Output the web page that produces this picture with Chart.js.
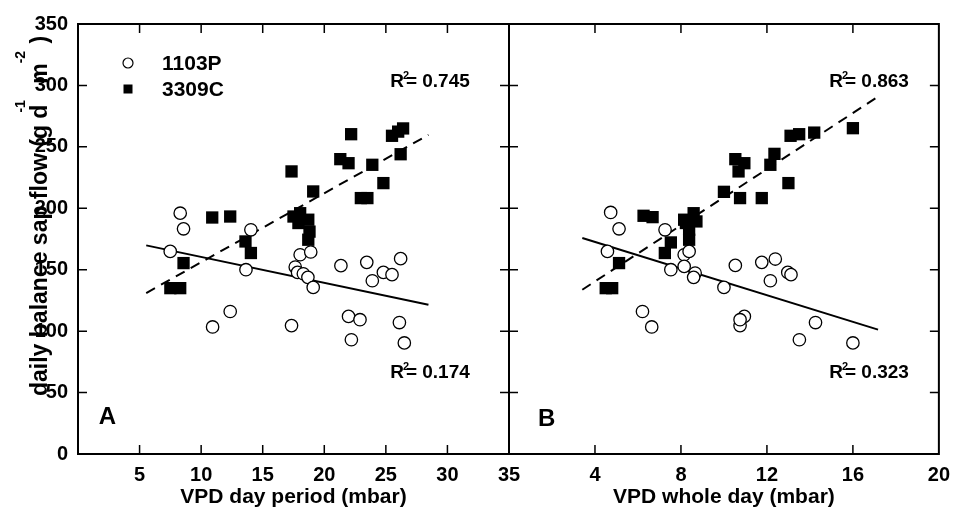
<!DOCTYPE html>
<html>
<head>
<meta charset="utf-8">
<script src="https://cdn.jsdelivr.net/npm/chart.js@4.4.0/dist/chart.umd.min.js"></script>
<style>
  html, body { margin: 0; padding: 0; background: #fff; }
  #wrap { position: relative; width: 954px; height: 521px; overflow: hidden; }
  canvas { position: absolute; top: 0; }
  #chartA { left: 0; }
  #chartB { left: 490px; }
</style>
</head>
<body>
<div id="wrap">
  <canvas id="chartA" width="530" height="521"></canvas>
  <canvas id="chartB" width="469" height="521"></canvas>
</div>
<script>
// ---- values ----
// panel A: VPD day period
const dayVpd1103  = [8.3, 8.57, 7.49, 14.04, 13.64, 12.36, 10.93, 17.34, 18.04, 18.9, 17.64, 17.83, 18.3, 18.67, 19.1, 21.35, 23.45, 23.9, 24.8, 25.5, 26.2, 21.97, 22.9, 22.2, 26.1, 26.5];
const dayFlow1103 = [196, 183.3, 164.9, 182.5, 150, 116, 103.4, 104.5, 162.2, 164.4, 152.2, 147.8, 146.7, 143.8, 135.6, 153.3, 156, 141, 147.8, 146, 159, 112, 109.3, 93, 107, 90.4];
const dayVpd3309  = [22.18, 25.5, 26.0, 26.4, 26.2, 21.3, 21.97, 23.9, 24.8, 22.97, 23.5, 17.34, 19.1, 10.9, 12.36, 17.5, 18.04, 18.7, 17.9, 18.8, 18.7, 13.6, 14.04, 8.57, 7.5, 8.3];
const dayFlow3309 = [260.3, 259, 262.4, 265, 244, 240, 236.7, 235.4, 220.5, 208.3, 208.3, 230, 213.7, 192.5, 193.3, 193.3, 196, 190.7, 188, 181, 174.4, 173, 163.6, 155.4, 135, 135];

// panel B: VPD whole day
const wholeVpd1103  = [4.73, 5.12, 4.58, 7.26, 7.53, 6.21, 6.64, 10.75, 8.15, 8.38, 8.15, 8.66, 8.59, 10.0, 10.53, 11.76, 12.16, 12.97, 13.12, 12.39, 10.95, 10.75, 13.51, 14.26, 16.0];
const wholeFlow1103 = [196.6, 183.3, 164.9, 182.5, 150, 116, 103.4, 104.5, 162.2, 164.9, 152.7, 147.3, 143.8, 135.6, 153.5, 156, 141, 147.8, 146, 158.7, 112, 109.3, 93, 107, 90.4];
const wholeVpd3309  = [16.0, 14.2, 13.5, 13.1, 12.35, 12.16, 13.0, 10.53, 10.95, 10.68, 10.0, 10.75, 11.76, 6.26, 6.68, 8.59, 8.15, 8.72, 8.23, 8.38, 8.38, 7.53, 7.25, 5.12, 4.5, 4.8];
const wholeFlow3309 = [265.2, 261.6, 260.3, 259, 244.3, 235.4, 220.5, 240, 236.7, 230, 213.4, 208.3, 208.3, 193.9, 192.8, 196, 190.7, 189.3, 188, 182.5, 174.4, 172.2, 163.6, 155.4, 135, 135];

// regression line end points
const fitDayX     = [5.54, 28.46];
const fitDay1103  = [169.8, 121.5];
const fitDay3309  = [131, 259.8];
const fitWholeX    = [3.41, 17.17];
const fitWhole1103 = [175.8, 101.2];
const fitWhole3309 = [133.7, 290.9];

const seriesNames = ['1103P', '3309C'];
const r2Day   = ['0.745', '0.174'];
const r2Whole = ['0.863', '0.323'];
const yTicks = [0, 350, 50];

const FAM = '"Liberation Sans", Arial, Helvetica, sans-serif';

Chart.defaults.font.family = FAM;
Chart.defaults.color = '#000';

function pts(xs, ys) {
  return xs.map((x, i) => ({ x: x, y: ys[i] }));
}

// frame + inward tick marks on all four sides
const frameTicks = {
  id: 'frameTicks',
  afterDatasetsDraw(chart) {
    const { ctx, chartArea: a, scales: { x, y } } = chart;
    ctx.save();
    ctx.strokeStyle = '#000';
    ctx.lineWidth = 1.5;
    ctx.beginPath();
    x.ticks.forEach(t => {
      if (t.value <= x.min || t.value >= x.max) return;
      const px = x.getPixelForValue(t.value);
      ctx.moveTo(px, a.bottom); ctx.lineTo(px, a.bottom - 9);
      ctx.moveTo(px, a.top); ctx.lineTo(px, a.top + 9);
    });
    y.ticks.forEach(t => {
      if (t.value <= y.min || t.value >= y.max) return;
      const py = y.getPixelForValue(t.value);
      ctx.moveTo(a.left, py); ctx.lineTo(a.left + 9, py);
      ctx.moveTo(a.right, py); ctx.lineTo(a.right - 9, py);
    });
    ctx.stroke();
    ctx.lineWidth = 2;
    ctx.strokeRect(a.left, a.top, a.right - a.left, a.bottom - a.top);
    ctx.restore();
  }
};

function drawR2(ctx, value, x0, yb) {
  ctx.textAlign = 'left';
  ctx.textBaseline = 'alphabetic';
  ctx.font = 'bold 19px ' + FAM;
  ctx.fillText('R', x0, yb);
  const rw = ctx.measureText('R').width;
  ctx.font = 'bold 11px ' + FAM;
  ctx.fillText('2', x0 + rw - 1, yb - 8);
  ctx.font = 'bold 19px ' + FAM;
  ctx.fillText('= ' + value, x0 + rw + 2, yb);
}

// R² notes, panel letter, legend, rotated y title
const notes = {
  id: 'notes',
  afterDraw(chart, args, opts) {
    const { ctx, chartArea: a, scales: { x, y } } = chart;
    ctx.save();
    ctx.fillStyle = '#000';
    opts.r2.forEach((v, i) => {
      drawR2(ctx, v, x.getPixelForValue(opts.r2x), y.getPixelForValue(opts.r2y[i]));
    });
    ctx.font = 'bold 24px ' + FAM;
    ctx.textAlign = 'center';
    ctx.textBaseline = 'middle';
    ctx.fillText(opts.letter, x.getPixelForValue(opts.letterPos[0]), y.getPixelForValue(opts.letterPos[1]));

    if (opts.legend) {
      const lx = a.left + 50, ly = a.top + 39;
      ctx.lineWidth = 1.2;
      ctx.strokeStyle = '#000';
      ctx.fillStyle = '#fff';
      ctx.beginPath();
      ctx.arc(lx, ly, 5, 0, Math.PI * 2);
      ctx.fill();
      ctx.stroke();
      ctx.fillStyle = '#000';
      ctx.fillRect(lx - 4.5, ly + 26 - 4.5, 9, 9);
      ctx.font = 'bold 21px ' + FAM;
      ctx.textAlign = 'left';
      ctx.textBaseline = 'middle';
      ctx.fillText(seriesNames[0], lx + 34, ly + 1);
      ctx.fillText(seriesNames[1], lx + 34, ly + 27);
    }

    if (opts.yTitle) {
      ctx.translate(47, 396);
      ctx.rotate(-Math.PI / 2);
      ctx.textAlign = 'left';
      ctx.textBaseline = 'alphabetic';
      const big = 'bold 23px ' + FAM, small = 'bold 14px ' + FAM;
      const parts = [
        ['daily balance sap flow (g d', big, 0, -8],
        ['-1', small, -22, 10],
        [' m', big, 0, 0],
        ['-2', small, -22, 1],
        [' )', big, 0, 0]
      ];
      let cx = 0;
      parts.forEach(p => {
        ctx.font = p[1];
        ctx.fillText(p[0], cx, p[2]);
        cx += ctx.measureText(p[0]).width + p[3];
      });
    }
    ctx.restore();
  }
};

function makePanel(id, o) {
  return new Chart(document.getElementById(id), {
    type: 'scatter',
    data: {
      datasets: [
        {
          label: seriesNames[0],
          data: pts(o.vx1, o.vy1),
          pointStyle: 'circle',
          pointRadius: 6.2,
          pointBackgroundColor: '#fff',
          pointBorderColor: '#000',
          pointBorderWidth: 1.3
        },
        {
          label: seriesNames[1],
          data: pts(o.vx2, o.vy2),
          pointStyle: 'rect',
          pointRadius: 8.7,
          pointBackgroundColor: '#000',
          pointBorderColor: '#000',
          pointBorderWidth: 0
        },
        {
          type: 'line',
          data: pts(o.fx, o.fy1),
          borderColor: '#000',
          borderWidth: 2,
          pointRadius: 0,
          fill: false
        },
        {
          type: 'line',
          data: pts(o.fx, o.fy2),
          borderColor: '#000',
          borderWidth: 2,
          borderDash: [10, 7],
          pointRadius: 0,
          fill: false
        }
      ]
    },
    options: {
      responsive: false,
      animation: false,
      events: [],
      layout: { padding: o.padding },
      plugins: {
        legend: { display: false },
        tooltip: { enabled: false },
        notes: o.notes
      },
      scales: {
        x: {
          type: 'linear',
          min: 0,
          max: o.xMax,
          afterFit: s => { s.height = 67; },
          grid: { display: false, drawTicks: false },
          border: { display: false },
          ticks: {
            stepSize: o.xStep,
            padding: 9,
            maxRotation: 0,
            autoSkip: false,
            font: { size: 20, weight: 'bold' },
            callback: v => (v === 0 ? '' : v)
          },
          title: {
            display: true,
            text: o.xTitle,
            font: { size: 21, weight: 'bold' },
            padding: { top: 0, bottom: 11 }
          }
        },
        y: {
          type: 'linear',
          min: yTicks[0],
          max: yTicks[1],
          afterFit: s => { s.width = o.yWidth; },
          grid: { display: false, drawTicks: false },
          border: { display: false },
          ticks: {
            display: o.showY,
            stepSize: yTicks[2],
            padding: 10,
            font: { size: 20, weight: 'bold' }
          }
        }
      }
    },
    plugins: [frameTicks, notes]
  });
}

makePanel('chartA', {
  vx1: dayVpd1103, vy1: dayFlow1103, vx2: dayVpd3309, vy2: dayFlow3309,
  fx: fitDayX, fy1: fitDay1103, fy2: fitDay3309,
  xMax: 35, xStep: 5, xTitle: 'VPD day period (mbar)', showY: true, yWidth: 78,
  padding: { left: 0, right: 21, top: 24, bottom: 0 },
  notes: { r2: r2Day, r2x: 25.35, r2y: [298.8, 62.2], letter: 'A', letterPos: [2.38, 29.7], legend: true, yTitle: true }
});

makePanel('chartB', {
  vx1: wholeVpd1103, vy1: wholeFlow1103, vx2: wholeVpd3309, vy2: wholeFlow3309,
  fx: fitWholeX, fy1: fitWhole1103, fy2: fitWhole3309,
  xMax: 20, xStep: 4, xTitle: 'VPD whole day (mbar)', showY: false, yWidth: 19,
  padding: { left: 0, right: 0, top: 24, bottom: 0 },
  notes: { r2: r2Whole, r2x: 14.9, r2y: [298.8, 62.2], letter: 'B', letterPos: [1.75, 28.1], legend: false, yTitle: false }
});
</script>
</body>
</html>
